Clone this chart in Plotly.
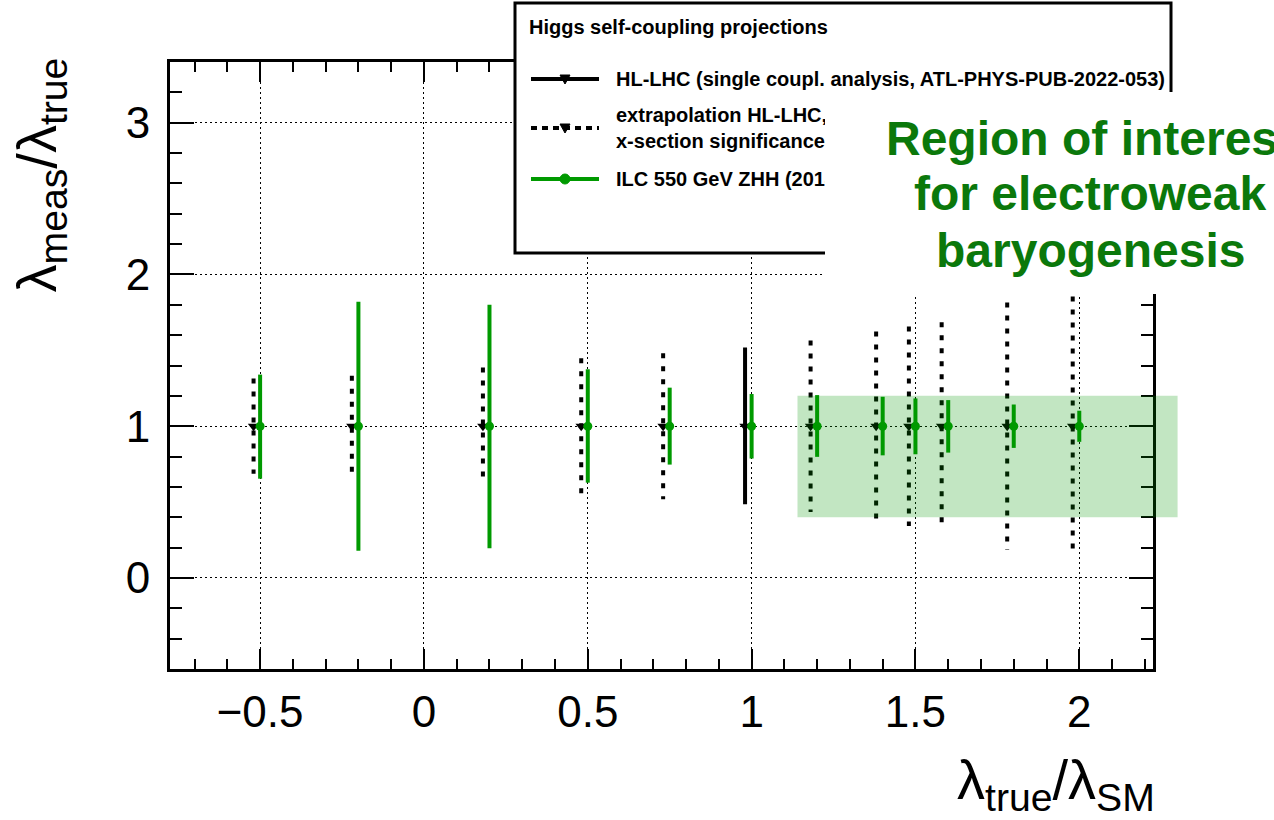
import plotly.graph_objects as go

# ---------------- data ----------------
lambda_true = [-0.5, -0.2, 0.2, 0.5, 0.75, 1.0, 1.2, 1.4, 1.5, 1.6, 1.8, 2.0]
ratio_meas = [1.0, 1.0, 1.0, 1.0, 1.0, 1.0, 1.0, 1.0, 1.0, 1.0, 1.0, 1.0]

# ILC 550 GeV ZHH (2014): upper / lower end of each interval
ilc_upper = [1.34, 1.82, 1.80, 1.375, 1.254, 1.212, 1.205, 1.194, 1.183, 1.172, 1.143, 1.102]
ilc_lower = [0.654, 0.180, 0.196, 0.628, 0.747, 0.787, 0.798, 0.808, 0.815, 0.826, 0.857, 0.897]

# HL-LHC single coupling analysis (only at SM point)
hllhc_x = [1.0]
hllhc_upper = [1.518]
hllhc_lower = [0.485]

# extrapolation HL-LHC (x-section significance)
extrap_x = [-0.5, -0.2, 0.2, 0.5, 0.75, 1.2, 1.4, 1.5, 1.6, 1.8, 2.0]
extrap_upper = [1.315, 1.333, 1.386, 1.447, 1.480, 1.564, 1.624, 1.657, 1.685, 1.815, 1.855]
extrap_lower = [0.687, 0.666, 0.615, 0.555, 0.518, 0.434, 0.375, 0.342, 0.317, 0.185, 0.143]

# region of interest for electroweak baryogenesis
band_x = [1.14, 2.30]
band_y = [0.4, 1.2]

x_ticks = [-0.5, 0, 0.5, 1, 1.5, 2]
x_ticktext = ["\u22120.5", "0", "0.5", "1", "1.5", "2"]
y_ticks = [0, 1, 2, 3]
y_ticktext = ["0", "1", "2", "3"]

region_lines = ["Region of interest", "for electroweak", "baryogenesis"]

X_RANGE = [-0.775, 2.225]
Y_RANGE = [-0.6, 3.4]

# ---------------- style ----------------
GREEN = "#009a00"
TEXT_GREEN = "#0b780b"
BLACK_OFFSET = -0.02
FONT = "Liberation Sans, Arial, Helvetica, sans-serif"

W, H = 1274, 820
L, R, T, B = 170, 1153, 62, 669


def px(x):
    return (x - L) / (R - L)


def py(y):
    return (B - y) / (B - T)


def segs(xs, lo, hi, off=0.0):
    sx, sy = [], []
    for x, a, b in zip(xs, lo, hi):
        sx += [x + off, x + off, None]
        sy += [b, a, None]
    return sx, sy


fig = go.Figure()

ex, ey = segs(extrap_x, extrap_lower, extrap_upper, BLACK_OFFSET)
fig.add_trace(go.Scatter(x=ex, y=ey, mode="lines",
                         line=dict(color="black", width=4, dash="5px,8px"),
                         hoverinfo="skip"))
hx, hy = segs(hllhc_x, hllhc_lower, hllhc_upper, BLACK_OFFSET)
fig.add_trace(go.Scatter(x=hx, y=hy, mode="lines",
                         line=dict(color="black", width=4), hoverinfo="skip"))
gx, gy = segs(lambda_true, ilc_lower, ilc_upper)
fig.add_trace(go.Scatter(x=gx, y=gy, mode="lines",
                         line=dict(color=GREEN, width=4), hoverinfo="skip"))
fig.add_trace(go.Scatter(x=[v + BLACK_OFFSET for v in lambda_true], y=ratio_meas,
                         mode="markers",
                         marker=dict(symbol="triangle-down", size=10, color="black")))
fig.add_trace(go.Scatter(x=lambda_true, y=ratio_meas, mode="markers",
                         marker=dict(symbol="circle", size=9, color=GREEN)))

shapes = []
# band (extends past the right frame)
bx0 = (band_x[0] - X_RANGE[0]) / (X_RANGE[1] - X_RANGE[0])
bx1 = (band_x[1] - X_RANGE[0]) / (X_RANGE[1] - X_RANGE[0])
shapes.append(dict(type="rect", xref="paper", yref="y", x0=bx0, x1=bx1,
                   y0=band_y[0], y1=band_y[1], fillcolor="rgba(0,150,0,0.24)",
                   line=dict(width=0), layer="above"))

# legend box
shapes.append(dict(type="rect", xref="paper", yref="paper",
                   x0=px(515), x1=px(1171), y0=py(253), y1=py(3),
                   fillcolor="white", line=dict(color="black", width=3), layer="above"))
leg_rows = [79, 128, 179]
shapes.append(dict(type="line", xref="paper", yref="paper", x0=px(531), x1=px(599),
                   y0=py(leg_rows[0]), y1=py(leg_rows[0]),
                   line=dict(color="black", width=4), layer="above"))
shapes.append(dict(type="line", xref="paper", yref="paper", x0=px(531), x1=px(599),
                   y0=py(leg_rows[1]), y1=py(leg_rows[1]),
                   line=dict(color="black", width=4, dash="6px,5px"), layer="above"))
shapes.append(dict(type="line", xref="paper", yref="paper", x0=px(531), x1=px(599),
                   y0=py(leg_rows[2]), y1=py(leg_rows[2]),
                   line=dict(color=GREEN, width=4), layer="above"))
for r in leg_rows[:2]:
    shapes.append(dict(type="path", xref="paper", yref="paper",
                       xsizemode="pixel", ysizemode="pixel",
                       xanchor=px(565), yanchor=py(r),
                       path="M -5 4 L 5 4 L 0 -5 Z", fillcolor="black",
                       line=dict(color="black", width=1), layer="above"))
shapes.append(dict(type="circle", xref="paper", yref="paper",
                   xsizemode="pixel", ysizemode="pixel",
                   xanchor=px(565), yanchor=py(leg_rows[2]),
                   x0=-5, x1=5, y0=-5, y1=5, fillcolor=GREEN,
                   line=dict(color=GREEN, width=1), layer="above"))

annotations = []


def ann(text, x, y, size, xanchor="left", yanchor="middle", color="black", **kw):
    d = dict(text=text, xref="paper", yref="paper", x=px(x), y=py(y),
             xanchor=xanchor, yanchor=yanchor, showarrow=False,
             font=dict(family=FONT, size=size, color=color))
    d.update(kw)
    annotations.append(d)


ann("<b>Higgs self-coupling projections</b>", 527, 27, 20)
ann("<b>HL-LHC (single coupl. analysis, ATL-PHYS-PUB-2022-053)</b>", 614, 79, 20)
ann("<b>extrapolation HL-LHC,</b>", 614, 115, 20)
ann("<b>x-section significance</b>", 614, 141, 20)
ann("<b>ILC 550 GeV ZHH (2014)</b>", 614, 179, 20)

# axis titles
ann("\u03bb<sub>true</sub>/\u03bb<sub>SM</sub>", 1157, 821, 56,
    xanchor="right", yanchor="bottom")
ann("\u03bb<sub>meas</sub>/\u03bb<sub>true</sub>", 40, 56, 56,
    xanchor="center", yanchor="top", textangle=-90)

# region of interest: white box covering part of the legend, then text lines
annotations.append(dict(
    text=" ", xref="paper", yref="paper", x=px(825), y=py(92),
    xanchor="left", yanchor="top", width=540, height=202,
    bgcolor="white", borderpad=0, borderwidth=0, showarrow=False,
    font=dict(family=FONT, size=10, color="white")))
for line, yc in zip(region_lines, [138, 194, 250]):
    ann("<b>" + line + "</b>", 1090, yc, 48, xanchor="center", color=TEXT_GREEN)

axis_common = dict(
    showline=True, linecolor="black", linewidth=3, mirror="ticks",
    ticks="inside", tickcolor="black", tickwidth=2,
    showgrid=True, gridcolor="black", gridwidth=1, griddash="2px,3px",
    zeroline=False, tickfont=dict(family=FONT, size=44, color="black"),
)

fig.update_layout(
    width=W, height=H,
    margin=dict(l=L, r=W - R, t=T, b=H - B),
    paper_bgcolor="white", plot_bgcolor="white",
    showlegend=False,
    xaxis=dict(range=X_RANGE, tickmode="array", tickvals=x_ticks, ticktext=x_ticktext,
               ticklen=20, ticklabelstandoff=2,
               minor=dict(tickmode="linear", tick0=0, dtick=0.1, ticks="inside",
                          ticklen=10, tickwidth=2, tickcolor="black", showgrid=False),
               **axis_common),
    yaxis=dict(range=Y_RANGE, tickmode="array", tickvals=y_ticks, ticktext=y_ticktext,
               ticklen=24, ticklabelstandoff=8,
               minor=dict(tickmode="linear", tick0=0, dtick=0.2, ticks="inside",
                          ticklen=12, tickwidth=2, tickcolor="black", showgrid=False),
               **axis_common),
    shapes=shapes,
    annotations=annotations,
)

fig.write_html("out.html")
